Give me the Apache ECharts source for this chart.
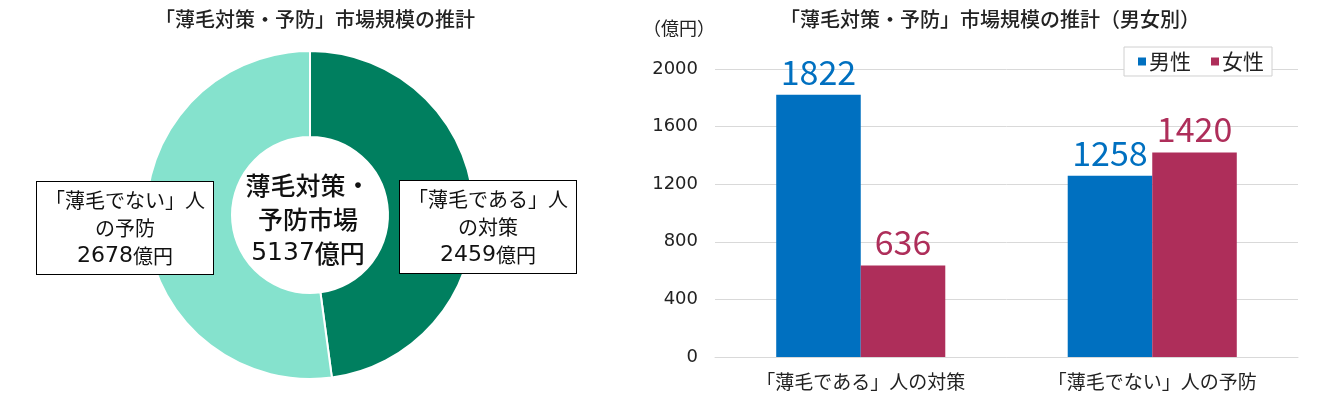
<!DOCTYPE html>
<html><head><meta charset="utf-8">
<script src="https://cdn.jsdelivr.net/npm/echarts@6/dist/echarts.min.js"></script>
<style>html,body{margin:0;padding:0;background:#fff}#c{width:1339px;height:399px}</style>
</head><body><div id="c"></div>
<script>
const FONT = '"Noto Sans CJK JP", "Noto Sans", sans-serif';
const NUMFONT = '"DejaVu Sans", sans-serif';
// pie data
const pieTitle = '「薄毛対策・予防」市場規模の推計';
const pieNames = ['「薄毛である」人の対策', '「薄毛でない」人の予防'];
const pieValues = [2459, 2678];
const pieBoxLines = [['「薄毛である」人', 'の対策'], ['「薄毛でない」人', 'の予防']];
const centerLines = ['薄毛対策・', '予防市場'];
const unit = '億円';
// bar data
const barTitle = '「薄毛対策・予防」市場規模の推計（男女別）';
const categories = ['「薄毛である」人の対策', '「薄毛でない」人の予防'];
const seriesNames = ['男性', '女性'];
const male = [1822, 1258];
const female = [636, 1420];
const yTicks = [0, 400, 800, 1200, 1600, 2000];
const yUnit = '（億円）';

const BLUE = '#0070C0', RED = '#AE2E5A';
const total = pieValues.reduce((a, b) => a + b, 0);
const chart = echarts.init(document.getElementById('c'));
function boxText(lines, value) {
  return lines.map(l => '{t|' + l + '}').join('\n') + '\n{n|' + value + '}{t|' + unit + '}';
}
const boxStyle = {
  fill: '#111', fontFamily: FONT, fontSize: 20,
  align: 'center', verticalAlign: 'middle',
  backgroundColor: '#fff', borderColor: '#000', borderWidth: 1,
  padding: [4, 8, 4, 8], lineHeight: 28,
  rich: {
    t: { fontFamily: FONT, fontSize: 20, lineHeight: 28, fill: '#111' },
    n: { fontFamily: NUMFONT, fontSize: 22, lineHeight: 28, fill: '#111' }
  }
};
chart.setOption({
  animation: false,
  title: [
    { text: pieTitle, left: 310, top: 4, textAlign: 'center',
      textStyle: { fontFamily: FONT, fontSize: 20, fontWeight: 500, color: '#222' } },
    { text: barTitle, left: 985, top: 4, textAlign: 'center',
      textStyle: { fontFamily: FONT, fontSize: 20, fontWeight: 500, color: '#222' } }
  ],
  legend: {
    data: seriesNames, right: 67, top: 47, icon: 'rect', itemWidth: 8, itemHeight: 8, itemGap: 20,
    backgroundColor: '#fff', borderColor: '#d0d0d0', borderWidth: 1, padding: [4, 8, 4, 14],
    textStyle: { fontFamily: FONT, fontSize: 21, color: '#222', padding: [0, 0, 0, -2] }
  },
  grid: { left: 715, right: 41, top: 69, bottom: 42, containLabel: false },
  xAxis: {
    type: 'category', data: categories,
    axisLine: { lineStyle: { color: '#d9d9d9' } }, axisTick: { show: false },
    axisLabel: { fontFamily: FONT, fontSize: 19, color: '#222', margin: 15 }
  },
  yAxis: {
    type: 'value', min: yTicks[0], max: yTicks[yTicks.length - 1], interval: yTicks[1] - yTicks[0],
    name: yUnit, nameLocation: 'end', nameGap: 32,
    nameTextStyle: { fontFamily: FONT, fontSize: 18, color: '#222', align: 'right', padding: [0, 0, 0, 0] },
    axisLine: { show: false }, axisTick: { show: false },
    splitLine: { lineStyle: { color: '#d9d9d9' } },
    axisLabel: { fontFamily: NUMFONT, fontSize: 18, color: '#222', margin: 17, formatter: v => String(v) }
  },
  graphic: [
    { type: 'text', x: 488, y: 227, z: 100,
      style: Object.assign({ text: boxText(pieBoxLines[0], pieValues[0]) }, boxStyle) },
    { type: 'text', x: 125, y: 228, z: 100,
      style: Object.assign({ text: boxText(pieBoxLines[1], pieValues[1]) }, boxStyle) },
    { type: 'text', x: 308, y: 219, z: 100,
      style: { text: centerLines.map(l => '{t|' + l + '}').join('\n') + '\n{n|' + total + '}{t|' + unit + '}',
        fill: '#111', align: 'center', verticalAlign: 'middle', lineHeight: 34,
        rich: {
          t: { fontFamily: FONT, fontSize: 25, fontWeight: 500, lineHeight: 34, fill: '#111' },
          n: { fontFamily: NUMFONT, fontSize: 25, lineHeight: 34, fill: '#111' }
        } } }
  ],
  series: [
    { type: 'pie', center: [310, 215], radius: [78, 164], startAngle: 90, clockwise: true,
      label: { show: false }, labelLine: { show: false }, silent: true,
      itemStyle: { borderColor: '#fff', borderWidth: 2 },
      data: pieNames.map((n, i) => ({ name: n, value: pieValues[i],
        itemStyle: { color: ['#007F5F', '#85E2CD'][i] } })) },
    { type: 'bar', name: seriesNames[0], data: male, barGap: '0%', barCategoryGap: '42%',
      itemStyle: { color: BLUE },
      label: { show: true, position: 'top', distance: 6, fontFamily: FONT, fontSize: 34, color: BLUE } },
    { type: 'bar', name: seriesNames[1], data: female,
      itemStyle: { color: RED },
      label: { show: true, position: 'top', distance: 6, fontFamily: FONT, fontSize: 34, color: RED } }
  ]
});
</script></body></html>
